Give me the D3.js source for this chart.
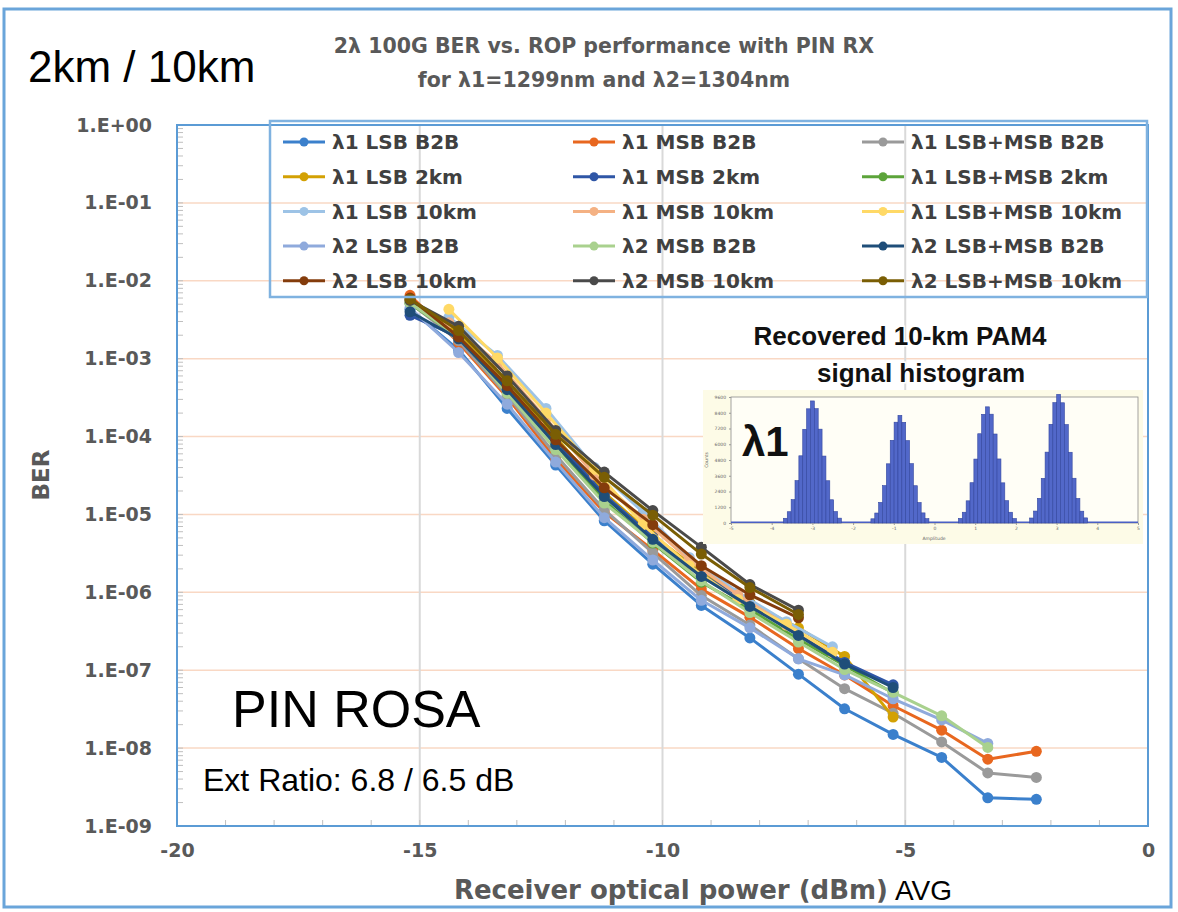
<!DOCTYPE html>
<html>
<head>
<meta charset="utf-8">
<script src="https://cdn.jsdelivr.net/npm/d3@7"></script>
<style>
body { margin: 0; background: #fff; }
svg { display: block; }
</style>
</head>
<body>
<div id="dis"></div>
<script>

// received optical power (dBm) where the points sit
var ropGrid = [-15.2, -14.2, -13.2, -12.2, -11.2, -10.2, -9.2, -8.2, -7.2, -6.25, -5.25, -4.25, -3.3, -2.3];
var ropL1Km10 = [-14.4, -13.4, -12.4, -11.4, -10.4, -9.45, -8.45, -7.45, -6.5];

var seriesNames = [
    "λ1 LSB B2B", "λ1 MSB B2B", "λ1 LSB+MSB B2B",
    "λ1 LSB 2km", "λ1 MSB 2km", "λ1 LSB+MSB 2km",
    "λ1 LSB 10km", "λ1 MSB 10km", "λ1 LSB+MSB 10km",
    "λ2 LSB B2B", "λ2 MSB B2B", "λ2 LSB+MSB B2B",
    "λ2 LSB 10km", "λ2 MSB 10km", "λ2 LSB+MSB 10km"
];
var seriesColors = [
    "#3b80cc", "#e8671f", "#9a9a9a",
    "#d3a104", "#2f56a6", "#5ca43a",
    "#9dc3e6", "#f4b183", "#ffd966",
    "#8faadc", "#a9d18e", "#1f4e79",
    "#843c0c", "#4a4a4a", "#7a5e04"
];

// BER values
var l1LsbB2b   = [4.3e-3, 1.3e-3, 2.3e-4, 4.3e-5, 8.3e-6, 2.3e-6, 6.8e-7, 2.6e-7, 8.9e-8, 3.2e-8, 1.5e-8, 7.6e-9, 2.3e-9, 2.2e-9];
var l1MsbB2b   = [6.5e-3, 1.6e-3, 3.2e-4, 5.1e-5, 1.07e-5, 3.5e-6, 1.1e-6, 4.8e-7, 1.9e-7, 8.7e-8, 3.5e-8, 1.7e-8, 7.2e-9, 9.1e-9];
var l1BothB2b  = [5.2e-3, 1.7e-3, 3.4e-4, 5.8e-5, 1.15e-5, 3.2e-6, 9.1e-7, 3.8e-7, 1.4e-7, 5.8e-8, 2.8e-8, 1.2e-8, 4.8e-9, 4.2e-9];
var l1Lsb2km   = [5.5e-3, 2.1e-3, 4.9e-4, 9.8e-5, 1.9e-5, 5.4e-6, 1.8e-6, 7.4e-7, 3.5e-7, 1.5e-7, 2.5e-8];
var l1Msb2km   = [3.6e-3, 1.9e-3, 4.5e-4, 8.9e-5, 1.8e-5, 5.1e-6, 1.7e-6, 7.1e-7, 2.9e-7, 1.26e-7, 6.5e-8];
var l1Both2km  = [5.1e-3, 1.9e-3, 4.3e-4, 7.9e-5, 1.5e-5, 4.3e-6, 1.35e-6, 6.0e-7, 2.5e-7, 1.15e-7, 5.1e-8];
var l1Lsb10km  = [3.4e-3, 1.1e-3, 2.3e-4, 4.0e-5, 1.07e-5, 2.8e-6, 1.0e-6, 4.2e-7, 2.0e-7];
var l1Msb10km  = [2.9e-3, 8.9e-4, 1.7e-4, 3.2e-5, 8.7e-6, 2.6e-6, 9.3e-7, 3.8e-7, 1.7e-7];
var l1Both10km = [4.3e-3, 1.02e-3, 2.0e-4, 3.8e-5, 7.4e-6, 2.2e-6, 8.1e-7, 3.9e-7, 1.7e-7];
var l2LsbB2b   = [4.5e-3, 1.2e-3, 2.6e-4, 4.7e-5, 9.1e-6, 2.6e-6, 7.9e-7, 3.5e-7, 1.4e-7, 8.7e-8, 4.3e-8, 2.3e-8, 1.15e-8];
var l2MsbB2b   = [5.2e-3, 1.9e-3, 3.6e-4, 6.8e-5, 1.4e-5, 4.4e-6, 1.4e-6, 5.5e-7, 2.3e-7, 1.02e-7, 5.2e-8, 2.6e-8, 1.02e-8];
var l2BothB2b  = [4.0e-3, 1.8e-3, 4.0e-4, 7.9e-5, 1.7e-5, 4.8e-6, 1.6e-6, 6.6e-7, 2.8e-7, 1.2e-7, 6.0e-8];
var l2Lsb10km  = [6.0e-3, 1.9e-3, 4.5e-4, 9.1e-5, 2.2e-5, 7.4e-6, 2.2e-6, 9.3e-7, 4.7e-7];
var l2Msb10km  = [5.6e-3, 2.6e-3, 6.0e-4, 1.2e-4, 3.5e-5, 1.12e-5, 3.8e-6, 1.26e-6, 5.9e-7];
var l2Both10km = [5.8e-3, 2.3e-3, 5.2e-4, 1.07e-4, 3.0e-5, 9.8e-6, 3.1e-6, 1.15e-6, 5.2e-7];

var seriesBer = [
    l1LsbB2b, l1MsbB2b, l1BothB2b,
    l1Lsb2km, l1Msb2km, l1Both2km,
    l1Lsb10km, l1Msb10km, l1Both10km,
    l2LsbB2b, l2MsbB2b, l2BothB2b,
    l2Lsb10km, l2Msb10km, l2Both10km
];
var seriesRop = [
    ropGrid, ropGrid, ropGrid,
    ropGrid, ropGrid, ropGrid,
    ropL1Km10, ropL1Km10, ropL1Km10,
    ropGrid, ropGrid, ropGrid,
    ropGrid, ropGrid, ropGrid
];

var xTicks = [-20, -15, -10, -5, 0];
var yTicks = [1, 1e-1, 1e-2, 1e-3, 1e-4, 1e-5, 1e-6, 1e-7, 1e-8, 1e-9];

// inset: recovered PAM4 histogram (counts per bin around each level)
var histLevels = [-3.0, -0.85, 1.3, 3.05];
var histCounts0 = [360, 860, 1780, 3230, 5120, 7140, 8700, 9300, 8710, 7150, 5100, 3220, 1770, 870, 370];
var histCounts1 = [320, 760, 1570, 2850, 4510, 6300, 7680, 8200, 7670, 6280, 4520, 2840, 1560, 770, 330];
var histCounts2 = [350, 820, 1690, 3070, 4870, 6800, 8280, 8850, 8290, 6780, 4880, 3060, 1700, 820, 340];
var histCounts3 = [380, 910, 1880, 3400, 5400, 7520, 9170, 9800, 9160, 7500, 5390, 3410, 1870, 900, 390];
var histCounts = [histCounts0, histCounts1, histCounts2, histCounts3];
var histXTicks = [-5, -4, -3, -2, -1, 0, 1, 2, 3, 4, 5];
var histYTicks = [0, 1200, 2400, 3600, 4800, 6000, 7200, 8400, 9600];
var histBin = 0.095;

var W = 1178, H = 912;
var plotL = 177, plotR = 1148, plotT = 125, plotB = 826;

var fmtBer = function(v) {
    var k = Math.round(-Math.log10(v));
    return k === 0 ? "1.E+00" : "1.E-" + (k < 10 ? "0" + k : k);
};

var drawChart = function() {
    var svg = d3.select("#dis").append("svg")
        .attr("width", W)
        .attr("height", H)
        .attr("viewBox", [0, 0, W, H]);

    var x = d3.scaleLinear().domain([-20, 0]).range([plotL, plotR]);
    var y = d3.scaleLog().domain([1e-9, 1]).range([plotB, plotT]);

    // outer frame
    svg.append("rect")
        .attr("x", 4).attr("y", 9)
        .attr("width", 1167).attr("height", 898)
        .attr("fill", "#fff")
        .attr("stroke", "#6aa5da")
        .attr("stroke-width", 3);

    // gridlines
    svg.append("g")
        .selectAll("line")
        .data(yTicks.slice(0, -1))
        .join("line")
            .attr("x1", plotL).attr("x2", plotR)
            .attr("y1", d => y(d)).attr("y2", d => y(d))
            .attr("stroke", "#f9d8c4")
            .attr("stroke-width", 1.5);
    svg.append("g")
        .selectAll("line")
        .data(xTicks.slice(1, -1))
        .join("line")
            .attr("x1", d => x(d)).attr("x2", d => x(d))
            .attr("y1", plotT).attr("y2", plotB)
            .attr("stroke", "#d9d9d9")
            .attr("stroke-width", 2);

    // minor ticks inside the plot
    var minorY = y.ticks().filter(d => d < 1 && d > 1e-9);
    svg.append("g")
        .attr("stroke", "#bfbfbf")
        .selectAll("line")
        .data(minorY)
        .join("line")
            .attr("x1", plotL).attr("x2", plotL + 6)
            .attr("y1", d => y(d)).attr("y2", d => y(d));
    svg.append("g")
        .attr("stroke", "#bfbfbf")
        .selectAll("line")
        .data(d3.range(-19, 0))
        .join("line")
            .attr("x1", d => x(d)).attr("x2", d => x(d))
            .attr("y1", plotB).attr("y2", plotB - 6);

    // plot frame
    svg.append("rect")
        .attr("x", plotL).attr("y", plotT)
        .attr("width", plotR - plotL).attr("height", plotB - plotT)
        .attr("fill", "none")
        .attr("stroke", "#5b9bd5")
        .attr("stroke-width", 2);

    // axes
    var yAxis = svg.append("g")
        .attr("transform", "translate(" + plotL + ",0)")
        .call(d3.axisLeft(y).tickValues(yTicks).tickFormat(fmtBer).tickSize(0).tickPadding(25));
    var xAxis = svg.append("g")
        .attr("transform", "translate(0," + plotB + ")")
        .call(d3.axisBottom(x).tickValues(xTicks).tickFormat(d => String(d)).tickSize(0).tickPadding(18));
    [yAxis, xAxis].forEach(function(a) {
        a.select(".domain").remove();
        a.selectAll("text")
            .attr("fill", "#595959")
            .attr("font-family", "DejaVu Sans")
            .attr("font-weight", "bold")
            .attr("font-size", 19);
    });

    // series
    var series = seriesNames.map((name, i) => ({
        name: name,
        c: seriesColors[i],
        pts: seriesBer[i].map((b, j) => ({ x: seriesRop[i][j], b: b }))
    }));
    var line = d3.line().x(d => x(d.x)).y(d => y(d.b));
    var sg = svg.append("g")
        .selectAll("g")
        .data(series)
        .join("g");
    sg.append("path")
        .attr("d", d => line(d.pts))
        .attr("fill", "none")
        .attr("stroke", d => d.c)
        .attr("stroke-width", 3)
        .attr("stroke-linejoin", "round");
    sg.selectAll("circle")
        .data(d => d.pts.map(p => ({ x: p.x, b: p.b, c: d.c })))
        .join("circle")
            .attr("cx", d => x(d.x))
            .attr("cy", d => y(d.b))
            .attr("r", 5.5)
            .attr("fill", d => d.c);

    // legend
    var lg = svg.append("g");
    lg.append("rect")
        .attr("x", 270).attr("y", 121)
        .attr("width", 877).attr("height", 176)
        .attr("fill", "none")
        .attr("stroke", "#7fb2e0")
        .attr("stroke-width", 2.5);
    var colX = [283, 573, 862];
    var item = lg.selectAll("g")
        .data(series)
        .join("g")
        .attr("transform", (d, i) => "translate(" + colX[i % 3] + "," + (142 + Math.floor(i / 3) * 34.7) + ")");
    item.append("line")
        .attr("x1", 0).attr("x2", 42)
        .attr("stroke", d => d.c)
        .attr("stroke-width", 3);
    item.append("circle")
        .attr("cx", 21).attr("r", 4.5)
        .attr("fill", d => d.c);
    item.append("text")
        .attr("x", 49)
        .attr("dy", "0.36em")
        .attr("fill", "#404040")
        .attr("font-family", "DejaVu Sans")
        .attr("font-weight", "bold")
        .attr("font-size", 20)
        .text(d => d.name);

    // titles
    var title = svg.append("text")
        .attr("text-anchor", "middle")
        .attr("fill", "#595959")
        .attr("font-family", "DejaVu Sans")
        .attr("font-weight", "bold")
        .attr("font-size", 20.5);
    title.append("tspan").attr("x", 604).attr("y", 53).text("2λ 100G BER vs. ROP performance with PIN RX");
    title.append("tspan").attr("x", 604).attr("y", 87).text("for λ1=1299nm and λ2=1304nm");

    svg.append("text")
        .attr("transform", "translate(49,475) rotate(-90)")
        .attr("text-anchor", "middle")
        .attr("fill", "#595959")
        .attr("font-family", "DejaVu Sans")
        .attr("font-weight", "bold")
        .attr("font-size", 23)
        .text("BER");

    svg.append("text")
        .attr("x", 888).attr("y", 899)
        .attr("text-anchor", "end")
        .attr("fill", "#595959")
        .attr("font-family", "DejaVu Sans")
        .attr("font-weight", "bold")
        .attr("font-size", 26)
        .text("Receiver optical  power (dBm)");
    svg.append("text")
        .attr("x", 895).attr("y", 900)
        .attr("fill", "#000")
        .attr("font-family", "Liberation Sans")
        .attr("font-size", 28)
        .text("AVG");

    var note = function(tx, ty, size, str) {
        svg.append("text")
            .attr("x", tx).attr("y", ty)
            .attr("fill", "#000")
            .attr("font-family", "Liberation Sans")
            .attr("font-size", size)
            .text(str);
    };
    note(28, 82, 44, "2km / 10km");
    note(232, 727, 52, "PIN ROSA");
    note(203, 791, 32, "Ext Ratio: 6.8 / 6.5 dB");

    // inset histogram
    var hx = d3.scaleLinear().domain([-5, 5]).range([731, 1138]);
    var hy = d3.scaleLinear().domain([0, 9600]).range([523, 397]);
    var ins = svg.append("g");
    ins.append("rect")
        .attr("x", 703).attr("y", 390)
        .attr("width", 440).attr("height", 154)
        .attr("fill", "#fdfbe7");
    ins.append("rect")
        .attr("x", 731).attr("y", 397)
        .attr("width", 407).attr("height", 126)
        .attr("fill", "#fffef6")
        .attr("stroke", "#8c8c8c")
        .attr("stroke-width", 0.8);
    var bins = [];
    histLevels.forEach(function(lv, k) {
        histCounts[k].forEach(function(c, j) {
            bins.push({ x0: lv + (j - 7.5) * histBin, x1: lv + (j - 6.5) * histBin, n: c });
        });
    });
    ins.append("line")
        .attr("x1", hx(-5)).attr("x2", hx(5))
        .attr("y1", hy(0) - 0.8).attr("y2", hy(0) - 0.8)
        .attr("stroke", "#4a5fc4")
        .attr("stroke-width", 1.5);
    ins.append("g")
        .selectAll("rect")
        .data(bins)
        .join("rect")
            .attr("x", d => hx(d.x0))
            .attr("y", d => hy(d.n))
            .attr("width", d => hx(d.x1) - hx(d.x0))
            .attr("height", d => hy(0) - hy(d.n))
            .attr("fill", "#5268c9")
            .attr("stroke", "#33469f")
            .attr("stroke-width", 0.6);
    var hxa = ins.append("g")
        .attr("transform", "translate(0,523)")
        .call(d3.axisBottom(hx).tickValues(histXTicks).tickFormat(d => String(d)).tickSize(2).tickPadding(2));
    var hya = ins.append("g")
        .attr("transform", "translate(731,0)")
        .call(d3.axisLeft(hy).tickValues(histYTicks).tickFormat(d => String(d)).tickSize(2).tickPadding(3));
    [hxa, hya].forEach(function(a) {
        a.select(".domain").remove();
        a.selectAll("line").attr("stroke", "#999");
        a.selectAll("text")
            .attr("fill", "#666")
            .attr("font-family", "DejaVu Sans")
            .attr("font-size", 4.5);
    });
    ins.append("text")
        .attr("x", 934).attr("y", 540)
        .attr("text-anchor", "middle")
        .attr("fill", "#666")
        .attr("font-family", "DejaVu Sans")
        .attr("font-size", 4.5)
        .text("Amplitude");
    ins.append("text")
        .attr("transform", "translate(708,460) rotate(-90)")
        .attr("text-anchor", "middle")
        .attr("fill", "#666")
        .attr("font-family", "DejaVu Sans")
        .attr("font-size", 4.5)
        .text("Counts");
    ins.append("text")
        .attr("x", 742).attr("y", 456)
        .attr("fill", "#111")
        .attr("font-family", "Liberation Sans")
        .attr("font-weight", "bold")
        .attr("font-size", 42)
        .text("λ1");

    var it = svg.append("text")
        .attr("text-anchor", "middle")
        .attr("fill", "#111")
        .attr("stroke", "#fff")
        .attr("stroke-width", 3)
        .attr("paint-order", "stroke")
        .attr("font-family", "Liberation Sans")
        .attr("font-weight", "bold")
        .attr("font-size", 26);
    it.append("tspan").attr("x", 900).attr("y", 345).text("Recovered 10-km PAM4");
    it.append("tspan").attr("x", 921).attr("y", 382).text("signal histogram");
};

window.onload = function() {
    drawChart();
};
</script>
</body>
</html>
